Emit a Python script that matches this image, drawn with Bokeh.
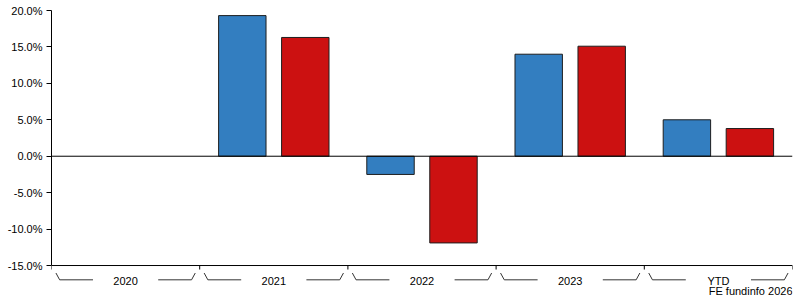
from bokeh.plotting import figure
from bokeh.models import FixedTicker, PrintfTickFormatter, ColumnDataSource, Span, Label
from bokeh.core.properties import value
from bokeh.embed import file_html
from bokeh.resources import INLINE

categories = ["2020", "2021", "2022", "2023", "YTD"]
fund = [None, 19.3, -2.5, 14.0, 5.0]
sector = [None, 16.3, -11.9, 15.1, 3.8]
y_ticks = [-15, -10, -5, 0, 5, 10, 15, 20]
credit = "FE fundinfo 2026"

FONT = "Liberation Sans"
Y_START, Y_END = -19.8, 20
FRAME_H = 290
ppu = FRAME_H / (Y_END - Y_START)  # pixels per percent


def below(px):
    """value located px pixels below the axis bottom (-15)"""
    return y_ticks[0] - px / ppu


p = figure(width=795, height=300, output_backend="svg", toolbar_location=None,
           x_range=(0, len(categories)), y_range=(Y_START, Y_END),
           min_border_left=51, min_border_right=3, min_border_top=10, min_border_bottom=0)
p.xaxis.visible = False
p.grid.visible = False
p.outline_line_color = None
p.background_fill_color = "white"
p.border_fill_color = "white"

ya = p.yaxis[0]
ya.ticker = FixedTicker(ticks=y_ticks)
ya.formatter = PrintfTickFormatter(format="%.1f%%")
ya.bounds = (y_ticks[0], y_ticks[-1])
ya.major_tick_out = 5
ya.major_tick_in = 0
ya.minor_tick_line_color = None
ya.axis_line_color = "black"
ya.major_tick_line_color = "black"
ya.major_label_text_font = FONT
ya.major_label_text_font_size = "11px"
ya.major_label_text_color = "black"
ya.major_label_standoff = 4

# bars
off, w = 0.2125, 0.32
fx = [i + 0.5 - off for i, v in enumerate(fund) if v is not None]
fv = [v for v in fund if v is not None]
sx = [i + 0.5 + off for i, v in enumerate(sector) if v is not None]
sv = [v for v in sector if v is not None]
p.vbar(x=fx, top=fv, bottom=0, width=w, fill_color="#337EC0", line_color="#1e1e1e", line_width=1)
p.vbar(x=sx, top=sv, bottom=0, width=w, fill_color="#CC1111", line_color="#1e1e1e", line_width=1)

# zero line
p.add_layout(Span(location=0, dimension="width", line_color="black", line_width=1))

# x axis line and ticks at group boundaries
n = len(categories)
p.segment(x0=[0], y0=[y_ticks[0]], x1=[n], y1=[y_ticks[0]], line_color="black", line_width=1)
p.segment(x0=list(range(n + 1)), y0=[y_ticks[0]] * (n + 1),
          x1=list(range(n + 1)), y1=[below(4)] * (n + 1), line_color="black", line_width=1)

# bracket decorations
xs, ys = [], []
y_hi, y_lo = below(7.5), below(14.3)
for i in range(n):
    xs.append([i + 0.03, i + 0.055, i + 0.28])
    ys.append([y_hi, y_lo, y_lo])
    xs.append([i + 0.72, i + 0.945, i + 0.97])
    ys.append([y_lo, y_lo, y_hi])
p.multi_line(xs=xs, ys=ys, line_color="#333333", line_width=1)

# category labels
p.text(x=[i + 0.5 for i in range(n)], y=[below(15)] * n, text=categories,
       text_font=value(FONT), text_font_size="11px", text_align="center",
       text_baseline="middle", text_color="black")

p.add_layout(Label(x=n, y=below(25.5), text=credit, text_font=FONT, text_font_size="11px",
                   text_align="right", text_baseline="middle", text_color="black"))

open("out.html", "w").write(file_html(p, INLINE))
